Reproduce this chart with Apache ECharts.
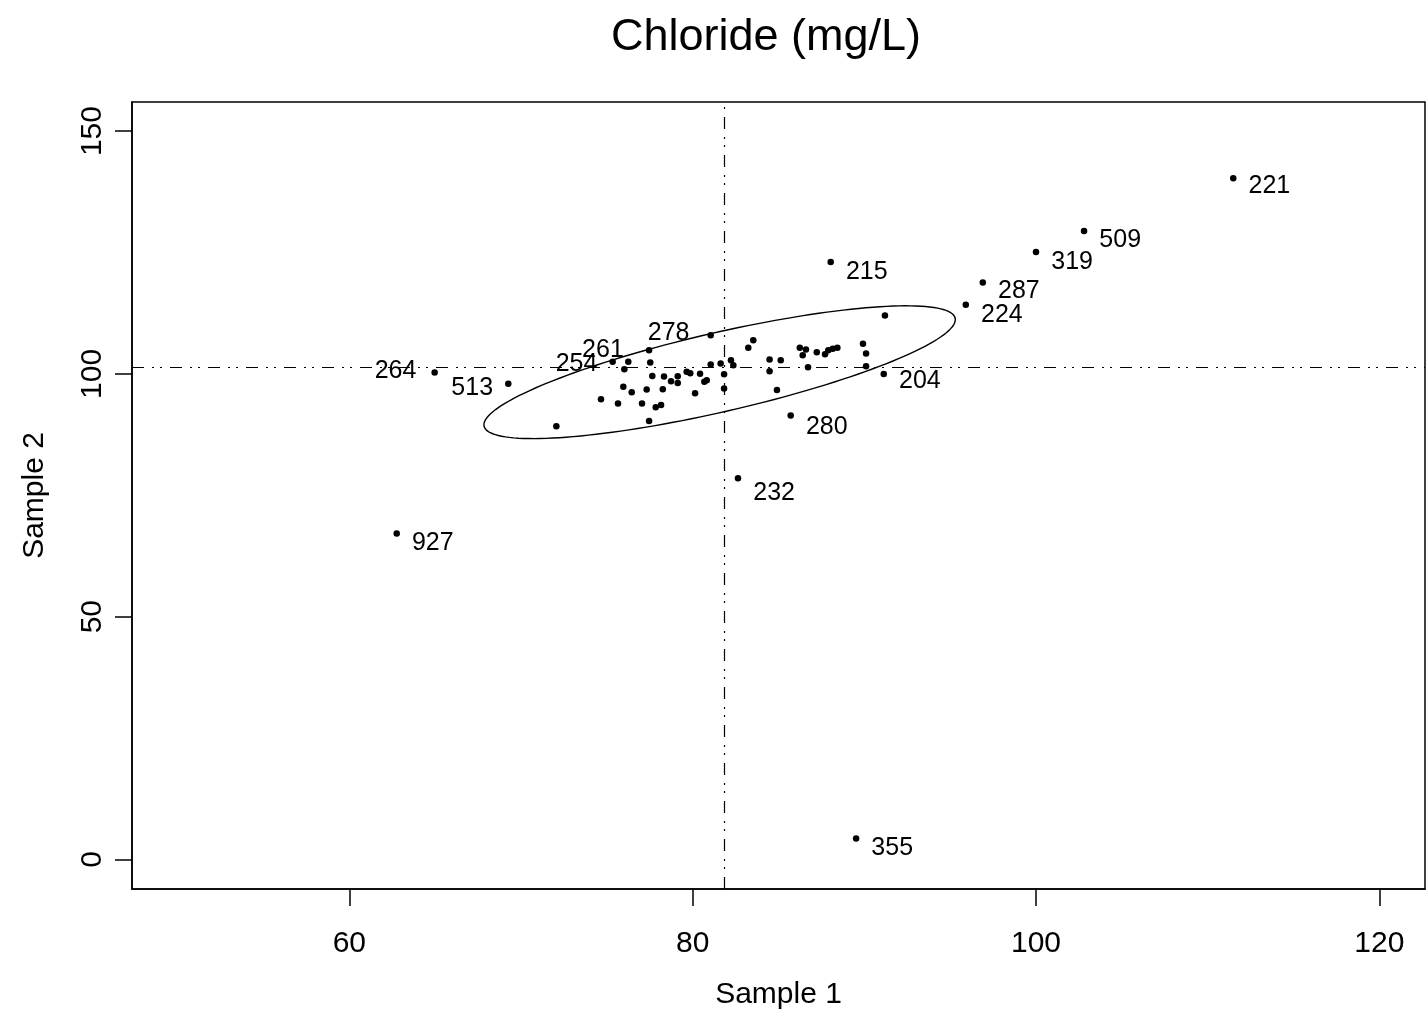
<!DOCTYPE html>
<html>
    <head>
        <meta http-equiv="Content-Type" content="text/html; charset=UTF-8" />
        <title>Chloride</title>
        <script type="text/javascript" src="https://cdn.jsdelivr.net/npm/echarts@6/dist/echarts.min.js"></script>
    </head>

    <body style="margin:0; width: 1426px; height:1013px; background:#fff;">
        <div id="main" style="width: 100%;height:100%;"></div>
    </body>
    <script>
        // point ids, '' = not labelled
        var pointIds = ['221', '509', '319', '287', '224', '215', '204', '280', '232', '355', '927', '264', '513', '254', '261', '278',
            '', '', '', '', '', '', '', '', '', '', '', '', '', '', '', '', '', '', '', '', '', '', '', '', '', '', '', '', '', '', '', '', '', '', '',
            '', '', '', '', '', '', '', '', '', '', '', '', '', '', ''];
        var sample1 = [111.49, 102.80, 100.00, 96.90, 95.91, 88.04, 91.13, 85.71, 82.64, 89.52, 62.76, 64.97, 69.26, 75.34, 77.46, 81.05,
            76.25, 77.53, 76.02, 81.05, 81.63, 82.23, 82.37, 81.83, 81.83, 77.65, 78.33, 78.74, 79.13, 79.13, 79.65, 79.86, 80.43, 80.68, 80.82,
            75.96, 76.45, 77.32, 78.26, 80.14, 74.66, 75.65, 77.05, 77.85, 78.16, 77.46, 72.06, 83.24, 83.53, 84.48, 84.48,
            91.20, 86.24, 86.60, 86.41, 87.23, 87.71, 87.90, 88.16, 88.43, 89.92, 90.10, 90.10, 85.13, 86.72, 84.91];
        var sample2 = [140.26, 129.40, 125.07, 118.83, 114.25, 123.01, 99.99, 91.42, 78.50, 4.33, 67.11, 100.28, 97.94, 102.47, 104.88, 107.97,
            102.47, 102.35, 100.96, 101.93, 102.14, 102.82, 101.79, 99.93, 96.99, 99.58, 99.46, 98.49, 99.52, 98.14, 100.41, 100.14, 100.00, 98.35, 98.70,
            97.32, 96.23, 96.78, 96.84, 96.02, 94.78, 93.90, 93.90, 93.13, 93.61, 90.31, 89.22, 105.35, 106.94, 102.96, 100.51,
            112.03, 105.35, 105.02, 103.85, 104.47, 104.06, 104.88, 105.15, 105.35, 106.18, 104.20, 101.58, 102.82, 101.38, 96.70];

        var xTicks = [60, 80, 100, 120];
        var yTicks = [0, 50, 100, 150];
        var centerLines = [81.85, 101.44];   // vertical x, horizontal y

        // ellipse: center and two conjugate semi-axes, data units
        var ellipseCenter = [81.57, 100.34];
        var ellipseAxisA = [13.72, 11.13];
        var ellipseAxisB = [0.51, -7.94];

        // where each id label sits
        var labelPlace = {
            '221': ['right', 0, 8], '509': ['right', 0, 9], '319': ['right', 0, 10], '287': ['right', 0, 9],
            '224': ['right', 0, 10], '215': ['right', 0, 10], '204': ['right', 0, 7], '280': ['right', 0, 12],
            '232': ['right', 0, 15], '355': ['right', 0, 10], '927': ['right', 0, 10],
            '264': ['left', -3, -1], '513': ['left', 0, 4], '254': ['left', 0, 2],
            '261': ['left', -10, 0], '278': ['left', -6, -2]
        };

        var FONT = 'Liberation Sans, Arial, sans-serif';
        var myChart = echarts.init(document.getElementById('main'));

        var points = [];
        for (var i = 0; i < sample1.length; i++) {
            var item = { value: [sample1[i], sample2[i]], name: pointIds[i] };
            var lp = labelPlace[pointIds[i]];
            if (lp) {
                item.label = { show: true, position: lp[0], distance: 12, offset: [lp[1], lp[2]] };
            }
            points.push(item);
        }

        var dashPattern = [12, 8, 2, 6, 2, 8];

        option = {
            backgroundColor: '#fff',
            animation: false,
            title: {
                text: 'Chloride (mg/L)',
                left: 606,
                top: 10,
                textStyle: { fontFamily: FONT, fontSize: 45, fontWeight: 'normal', color: '#000' }
            },
            grid: {
                left: 132, top: 102, right: 1, bottom: 124,
                show: true, borderColor: '#000', borderWidth: 1.5,
                containLabel: false, outerBoundsMode: 'none'
            },
            xAxis: {
                type: 'value',
                min: 47.34,
                max: 122.66,
                name: 'Sample 1',
                nameLocation: 'middle',
                nameGap: 91,
                nameTextStyle: { fontFamily: FONT, fontSize: 30, color: '#000' },
                axisLine: { show: true, onZero: false, lineStyle: { color: '#000', width: 1.5 } },
                axisTick: { show: true, inside: false, length: 17, customValues: xTicks, lineStyle: { color: '#000', width: 1.5 } },
                axisLabel: { customValues: xTicks, margin: 40, fontFamily: FONT, fontSize: 30, color: '#000' },
                splitLine: { show: false }
            },
            yAxis: {
                type: 'value',
                min: -6.08,
                max: 155.98,
                name: 'Sample 2',
                nameLocation: 'middle',
                nameGap: 82,
                nameRotate: 90,
                nameTextStyle: { fontFamily: FONT, fontSize: 30, color: '#000' },
                axisLine: { show: true, onZero: false, lineStyle: { color: '#000', width: 1.5 } },
                axisTick: { show: true, inside: false, length: 17, customValues: yTicks, lineStyle: { color: '#000', width: 1.5 } },
                axisLabel: { customValues: yTicks, rotate: 90, margin: 24, fontFamily: FONT, fontSize: 30, color: '#000' },
                splitLine: { show: false }
            },
            series: [
                {
                    type: 'custom',
                    silent: true,
                    data: [ellipseCenter],
                    renderItem: function (params, api) {
                        var pts = [];
                        for (var k = 0; k <= 160; k++) {
                            var t = 2 * Math.PI * k / 160;
                            pts.push(api.coord([
                                ellipseCenter[0] + Math.cos(t) * ellipseAxisA[0] + Math.sin(t) * ellipseAxisB[0],
                                ellipseCenter[1] + Math.cos(t) * ellipseAxisA[1] + Math.sin(t) * ellipseAxisB[1]
                            ]));
                        }
                        return {
                            type: 'polyline',
                            shape: { points: pts },
                            style: { fill: null, stroke: '#000', lineWidth: 1.4 }
                        };
                    }
                },
                {
                    type: 'scatter',
                    symbol: 'circle',
                    symbolSize: 6.5,
                    itemStyle: { color: '#000', opacity: 1 },
                    label: {
                        show: false,
                        formatter: '{b}',
                        fontFamily: FONT,
                        fontSize: 25,
                        color: '#000'
                    },
                    data: points,
                    markLine: {
                        silent: true,
                        symbol: 'none',
                        label: { show: false },
                        lineStyle: { color: '#000', width: 1.2, type: dashPattern, opacity: 1 },
                        data: [
                            { xAxis: centerLines[0] },
                            { yAxis: centerLines[1] }
                        ]
                    }
                }
            ]
        };

        myChart.setOption(option);
    </script>
</html>
